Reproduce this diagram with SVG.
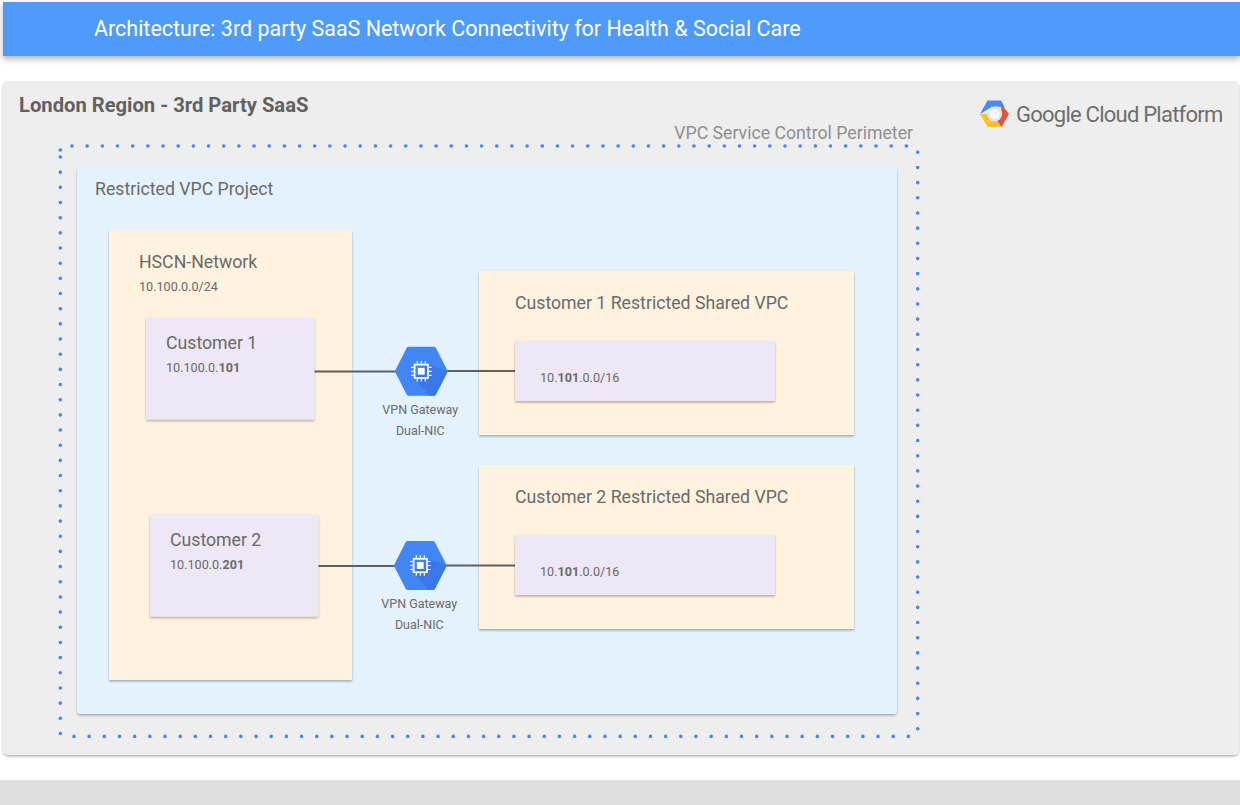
<svg xmlns="http://www.w3.org/2000/svg" width="1240" height="805" viewBox="0 0 1240 805">
<style>
text{font-family:Roboto,"Liberation Sans",sans-serif;fill:#6a6a6a}
.card{filter:url(#sh)}
.region{fill:#eeeeee}.proj{fill:#e3f2fd}.net{fill:#fff3e0}.sub{fill:#ede7f6}
.t16{font-size:17.700px}.ip{font-size:12.600px}
.lbl{font-size:12.500px;text-anchor:middle}
.conn{stroke:#5f5f5f;stroke-width:2;fill:none}
.dot{stroke:#4285f4;stroke-width:3.600;stroke-linecap:round;stroke-dasharray:0 15.170;fill:none}
</style>
<defs>
<filter id="sh" x="-5%" y="-5%" width="110%" height="110%"><feDropShadow dx="0" dy="1.500" stdDeviation="1" flood-color="#000" flood-opacity="0.3"/></filter>
<filter id="shb" x="-5%" y="-30%" width="110%" height="170%"><feDropShadow dx="0" dy="3" stdDeviation="3" flood-color="#000" flood-opacity="0.3"/></filter>
<g id="vpn">
<path d="M-26.500 0L-14.500-23.500Q-13.800-24.500-12.500-24.500H12.500Q13.800-24.500 14.500-23.500L26.500 0L14.500 23.500Q13.800 24.500 12.500 24.500H-12.500Q-13.800 24.500-14.500 23.500Z" fill="#4285f4"/>
<path d="M6.700-6.700L26.500 0L14.500 23.500Q13.800 24.500 12.500 24.500H8L-6.700 6.700Z" fill="#3b78e7"/>
<rect x="-6.700" y="-6.700" width="13.400" height="13.400" fill="none" stroke="#fff" stroke-width="1.700"/>
<rect x="-3.400" y="-3.400" width="6.800" height="6.800" fill="#fff"/>
<path d="M-4-10.300V-7.500M0-10.300V-7.500M4-10.300V-7.500M-4 7.500V10.300M0 7.500V10.300M4 7.500V10.300M-10.300-4H-7.500M-10.300 0H-7.500M-10.300 4H-7.500M7.500-4H10.300M7.500 0H10.300M7.500 4H10.300" stroke="#fff" stroke-width="1.200"/>
</g>
</defs>

<g id="header">
<rect x="3" y="2" width="1237" height="54" fill="#4f9bfb" filter="url(#shb)"/>
<text x="94" y="36" font-size="21.480" style="fill:#fff">Architecture: 3rd party SaaS Network Connectivity for Health &amp; Social Care</text>
</g>
<rect id="footer" x="0" y="780" width="1240" height="25" fill="#dfdfdf"/>

<g id="london-region">
<rect class="card region" x="3" y="81" width="1236" height="674" rx="5"/>
<text x="19" y="111.500" font-size="20.200" font-weight="700" style="fill:#616161">London Region - 3rd Party SaaS</text>
</g>

<g id="gcp-logo">
<path d="M980 114L987.500 100.500H1001L1005 107.500L996 106.500L990 108Z" fill="#4a8af4"/>
<path d="M980 114L987.500 127H1001.500L997 120.500H990.500L987.500 114Z" fill="#fbc02d"/>
<path d="M1009 114L1001.500 127L997 120.500L1001.500 114L1001 104Z" fill="#e0533f"/>
<circle cx="994.500" cy="114" r="7.500" fill="#e6e6e6"/>
<circle cx="994.500" cy="114" r="5" fill="#f7f7f7"/>
<text x="1016" y="122" font-size="22" style="fill:#6e6e6e;letter-spacing:-0.760px">Google Cloud Platform</text>
</g>

<g id="perimeter">
<path class="dot" d="M72 146H908"/>
<path class="dot" d="M917.700 152.300V729"/>
<path class="dot" d="M60.300 150V150.010"/>
<path class="dot" d="M60.300 157V734"/>
<path class="dot" d="M74 736.400H909"/>
<text x="913" y="139" font-size="17.700" text-anchor="end" style="fill:#8f8f8f">VPC Service Control Perimeter</text>
</g>

<g id="restricted-vpc-project">
<rect class="card proj" x="77" y="166" width="820" height="548" rx="4"/>
<text x="95" y="195" class="t16">Restricted VPC Project</text>
</g>

<g id="hscn-network">
<rect class="card net" x="109" y="230" width="243" height="450" rx="1"/>
<text x="139" y="268" class="t16">HSCN-Network</text>
<text x="139" y="291" class="ip">10.100.0.0/24</text>
</g>

<g id="customer-1-vpc">
<rect class="card net" x="479" y="271" width="375" height="164" rx="1"/>
<text x="515" y="309" class="t16">Customer 1 Restricted Shared VPC</text>
</g>
<g id="customer-2-vpc">
<rect class="card net" x="479" y="465" width="375" height="164" rx="1"/>
<text x="515" y="503" class="t16">Customer 2 Restricted Shared VPC</text>
</g>

<g id="connectors">
<path class="conn" d="M314 371.500H396"/>
<path class="conn" d="M446 371H515"/>
<path class="conn" d="M318 566H395"/>
<path class="conn" d="M445 565.500H515"/>
</g>

<g id="customer-1">
<rect class="card sub" x="146" y="317.500" width="168.500" height="102" rx="1"/>
<text x="166" y="348.500" class="t16">Customer 1</text>
<text x="166" y="372" class="ip">10.100.0.<tspan font-weight="700">101</tspan></text>
</g>
<g id="customer-2">
<rect class="card sub" x="150" y="514.500" width="168.500" height="102" rx="1"/>
<text x="170" y="545.500" class="t16">Customer 2</text>
<text x="170" y="569" class="ip">10.100.0.<tspan font-weight="700">201</tspan></text>
</g>
<g id="subnet-1">
<rect class="card sub" x="515" y="341" width="260" height="60" rx="1"/>
<text x="540" y="382" class="ip">10.<tspan font-weight="700">101</tspan>.0.0/16</text>
</g>
<g id="subnet-2">
<rect class="card sub" x="515" y="535" width="260" height="60" rx="1"/>
<text x="540" y="576" class="ip">10.<tspan font-weight="700">101</tspan>.0.0/16</text>
</g>

<g id="vpn-gateway-1">
<use href="#vpn" x="421.300" y="371.300"/>
<text x="420.300" y="414" class="lbl">VPN Gateway</text>
<text x="420.300" y="435" class="lbl">Dual-NIC</text>
</g>
<g id="vpn-gateway-2">
<use href="#vpn" x="420.300" y="565.500"/>
<text x="419.300" y="608" class="lbl">VPN Gateway</text>
<text x="419.300" y="629" class="lbl">Dual-NIC</text>
</g>
</svg>
